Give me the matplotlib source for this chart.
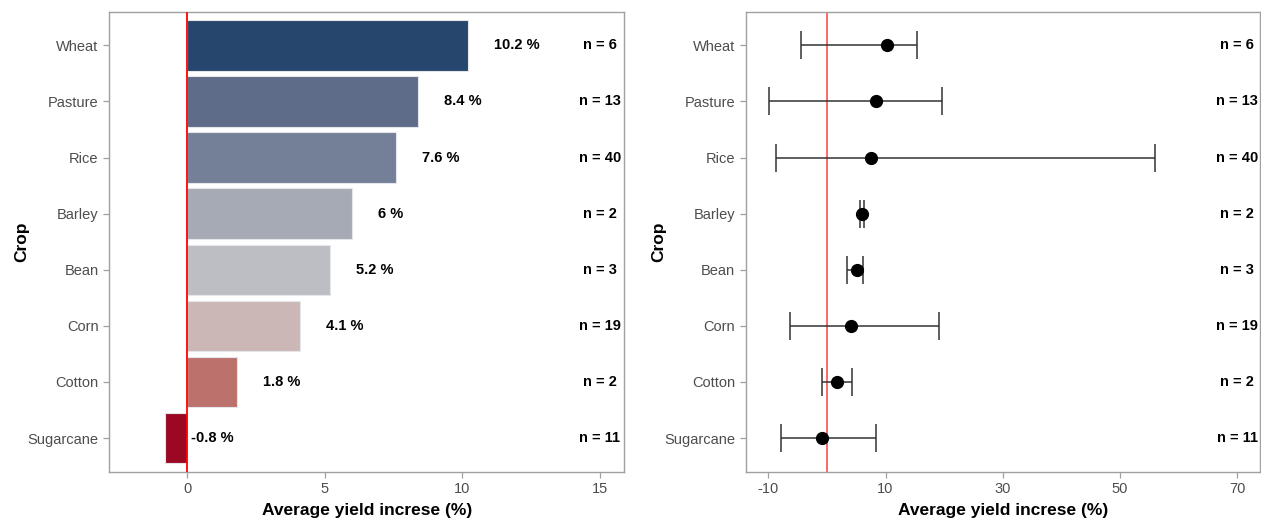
import matplotlib
matplotlib.use("Agg")
import matplotlib.pyplot as plt
import numpy as np

plt.rcParams['font.family'] = ['Liberation Sans', 'DejaVu Sans']
plt.rcParams['axes.unicode_minus'] = False

crops = ["Wheat", "Pasture", "Rice", "Barley", "Bean", "Corn", "Cotton", "Sugarcane"]
mean_yield = [10.2, 8.4, 7.6, 6.0, 5.2, 4.1, 1.8, -0.8]
n_obs = [6, 13, 40, 2, 3, 19, 2, 11]
ci_low = [-4.5, -9.9, -8.7, 5.6, 3.4, -6.3, -0.8, -7.9]
ci_high = [15.4, 19.6, 56.0, 6.4, 6.1, 19.1, 4.3, 8.3]
bar_colors = ["#26466E", "#5E6C8A", "#747F98", "#A6AAB4",
              "#BDBEC3", "#CBB8B6", "#BC716D", "#9B0824"]

# first crop at the top
ypos = np.arange(len(crops))[::-1]

tick_grey = "#4D4D4D"
frame_grey = "#A0A0A0"

fig = plt.figure(figsize=(12.61, 5.21), dpi=100)
ax1 = fig.add_axes([0.0864, 0.0946, 0.4088, 0.8829])
ax2 = fig.add_axes([0.5914, 0.0946, 0.4078, 0.8829])

# left: mean increase per crop
ax1.barh(ypos, mean_yield, height=0.9, color=bar_colors,
         edgecolor="#E4E6EA", linewidth=0.8, zorder=2)
ax1.axvline(0, color="#FF0000", lw=1.3, zorder=3)
for y, v, n in zip(ypos, mean_yield, n_obs):
    lbl = f"{v:g} %"
    ax1.text(v + 0.95, y, lbl, ha="left", va="center",
             fontsize=10.5, fontweight="bold")
    ax1.text(15, y, f"n = {n}", ha="center", va="center",
             fontsize=10.5, fontweight="bold")
ax1.set_xlim(-2.84, 15.89)
ax1.set_xticks([0, 5, 10, 15])

# right: mean with range
err = [np.array(mean_yield) - np.array(ci_low),
       np.array(ci_high) - np.array(mean_yield)]
ax2.axvline(0, color="#FF5A5A", lw=1.3, zorder=1)
ax2.errorbar(mean_yield, ypos, xerr=err, fmt="none", ecolor="#333333",
             elinewidth=1.1, capsize=10, capthick=1.1, zorder=2)
ax2.plot(mean_yield, ypos, "o", color="black", markersize=8.5, zorder=3)
for y, n in zip(ypos, n_obs):
    ax2.text(70, y, f"n = {n}", ha="center", va="center",
             fontsize=10.5, fontweight="bold")
ax2.set_xlim(-13.85, 73.9)
ax2.set_xticks([-10, 10, 30, 50, 70])

for ax in (ax1, ax2):
    ax.set_ylim(-0.6, 7.6)
    ax.set_yticks(ypos)
    ax.set_yticklabels(crops)
    ax.tick_params(axis="both", colors=frame_grey, labelcolor=tick_grey,
                   labelsize=10.5, length=4, width=0.9)
    for sp in ax.spines.values():
        sp.set_color(frame_grey)
        sp.set_linewidth(1.0)
    ax.set_xlabel("Average yield increse (%)", fontsize=12.5,
                  fontweight="bold", labelpad=5)
    ax.set_ylabel("Crop", fontsize=12.5, fontweight="bold")
    ax.yaxis.set_label_coords(-0.155, 0.5)

fig.savefig("out.png", dpi=100)
